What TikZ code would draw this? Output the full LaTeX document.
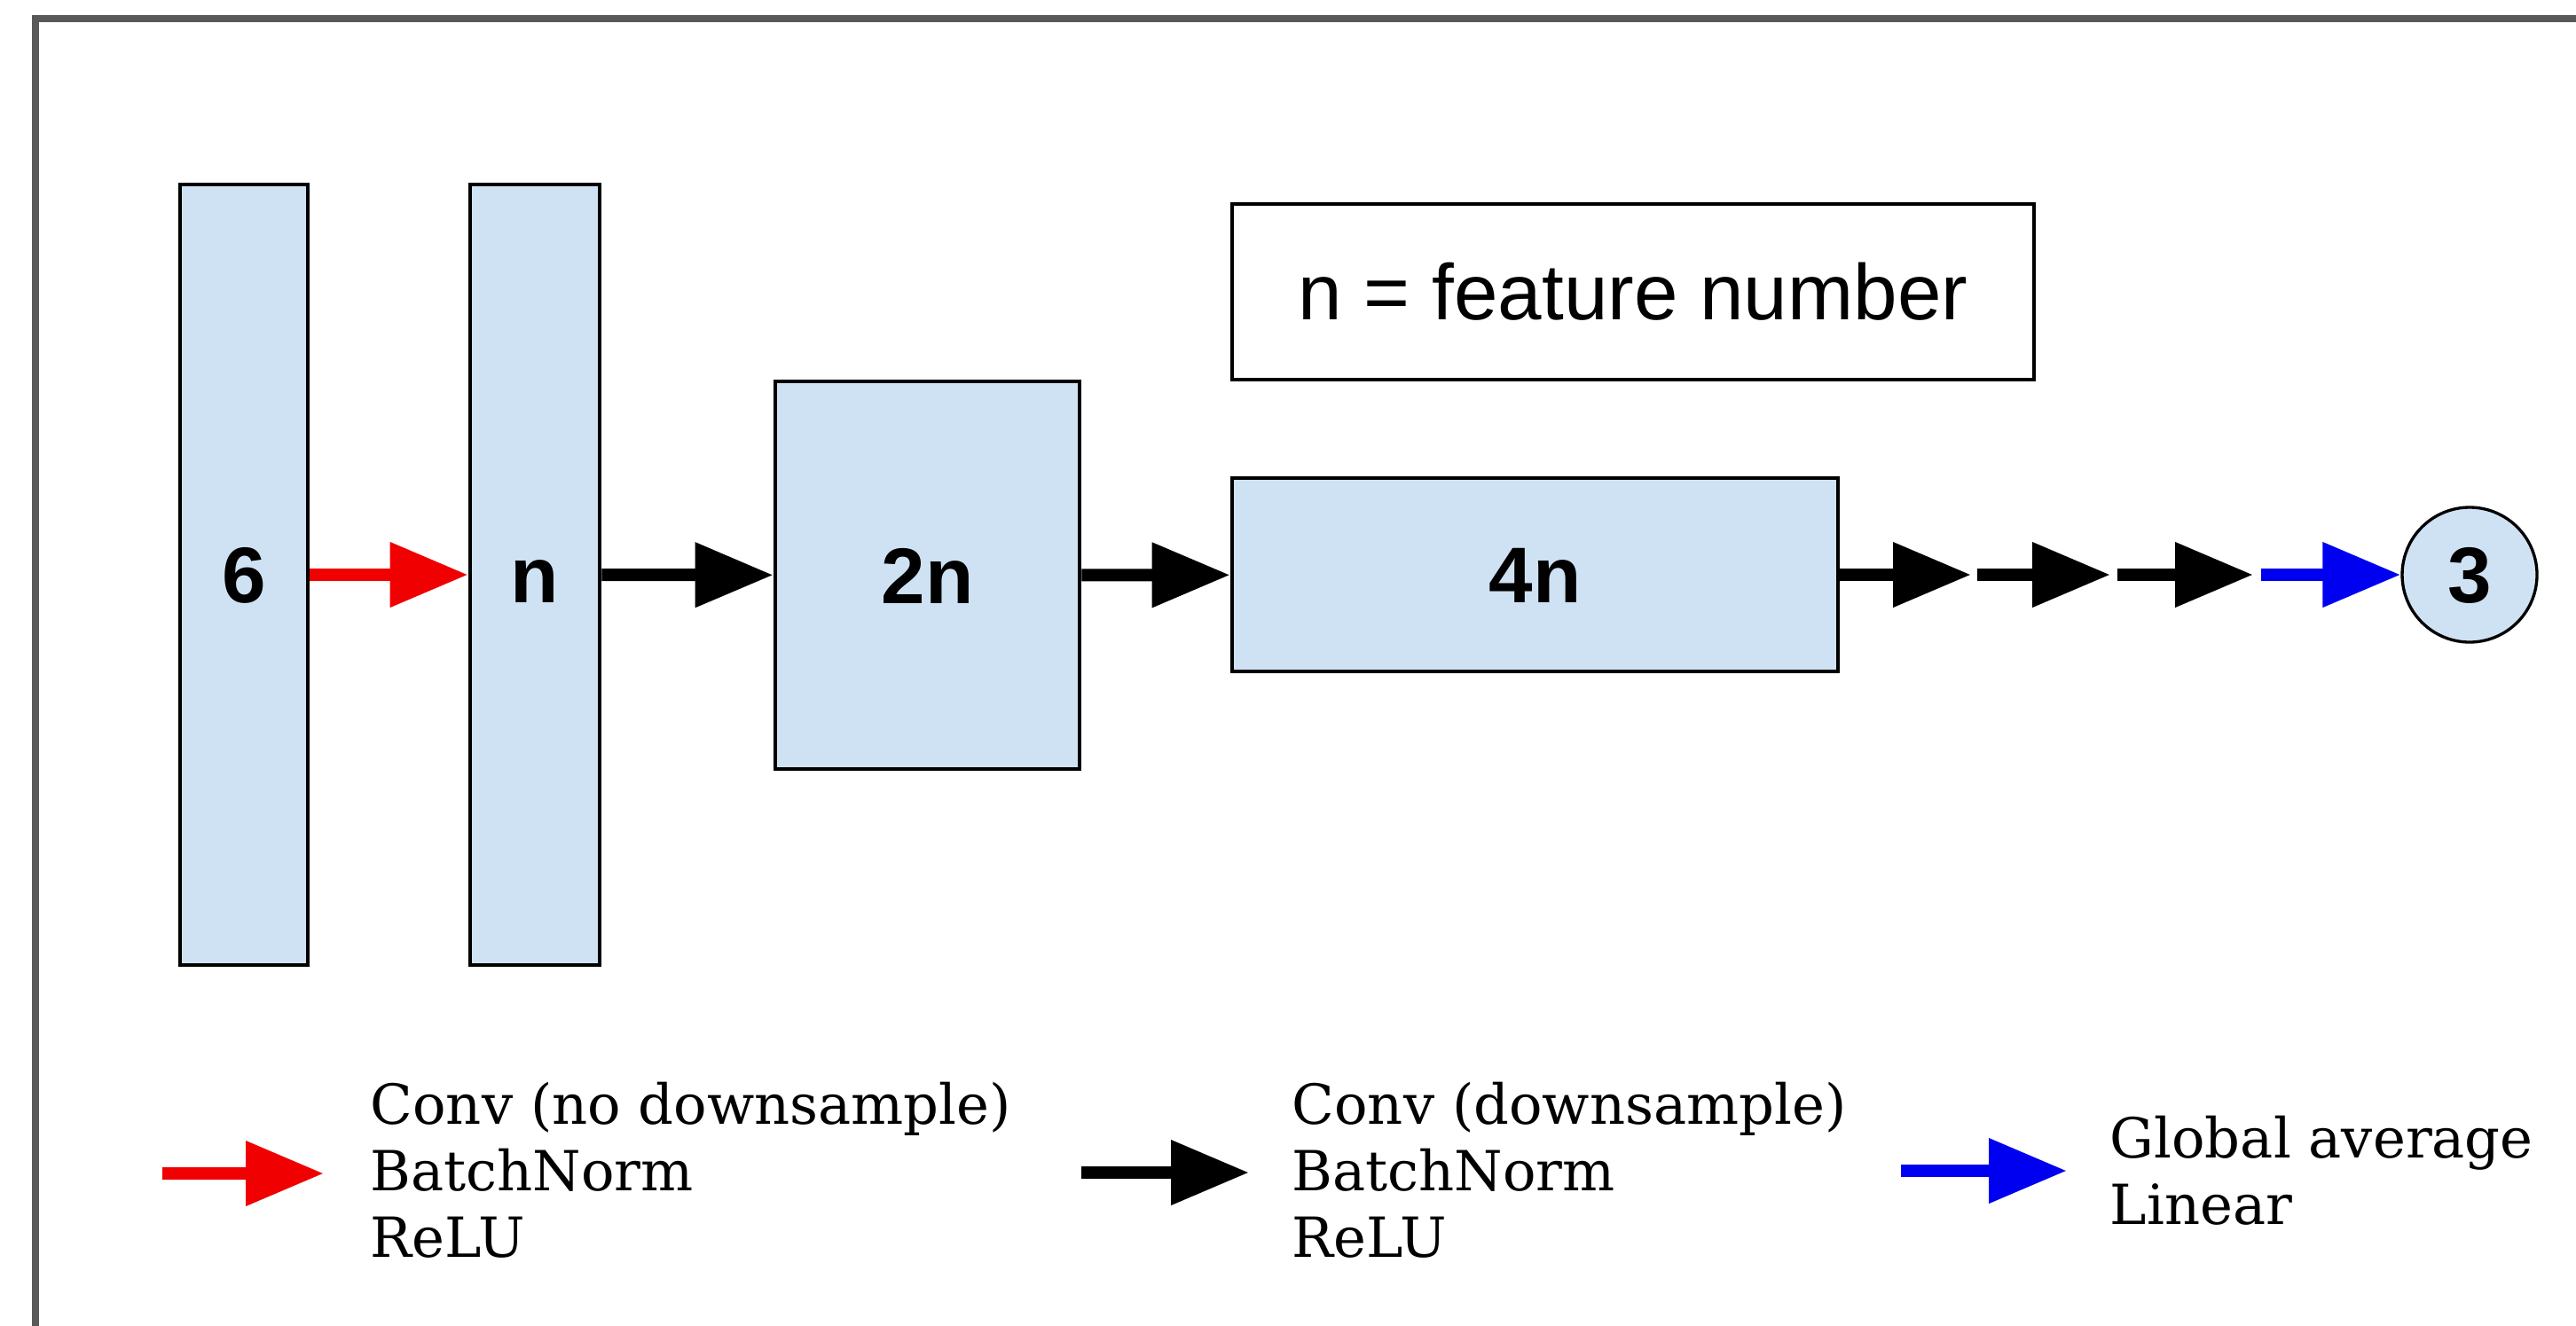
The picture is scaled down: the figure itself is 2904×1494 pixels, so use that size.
\documentclass[tikz,border=0pt]{standalone}
\usepackage{fontspec}
\usetikzlibrary{arrows.meta}
\newfontfamily\labelfont{Liberation Sans}
\newfontfamily\legendfont{DejaVu Serif}
\definecolor{layerblue}{HTML}{CFE2F3}
\definecolor{framegrey}{HTML}{595959}
\definecolor{convred}{HTML}{F00000}
\definecolor{headblue}{HTML}{0000F0}

\begin{document}
\begin{tikzpicture}[x=0.3pt,y=-0.3pt,
  labeltext/.style={text height=19.1pt, text depth=0pt},
  layer/.style={draw=black, line width=1.4pt, fill=layerblue, inner sep=0pt, labeltext,
    font={\labelfont\bfseries\fontsize{26.7pt}{32pt}\selectfont}},
  notebox/.style={draw=black, line width=1.4pt, fill=white, inner sep=0pt, labeltext,
    font={\labelfont\fontsize{26.7pt}{32pt}\selectfont}},
  outnode/.style={circle, draw=black, line width=1pt, fill=layerblue, inner sep=0pt,
    minimum size=45.6pt, labeltext,
    font={\labelfont\bfseries\fontsize{26.7pt}{32pt}\selectfont}},
  legendtext/.style={inner sep=0pt, align=left, anchor=base west,
    font={\legendfont\fontsize{18.7pt}{22.5pt}\selectfont}},
  flow/.style={line width=4.2pt, -{Triangle[length=26.4pt,width=21pt]}},
]
\useasboundingbox (0,0) rectangle (2904,1494);

% outer frame (left and top edges)
\draw[framegrey, line width=2.5pt, line join=miter] (40,1520) -- (40,21) -- (2930,21);

% layers
\node[layer, minimum width=43.2pt, minimum height=264pt] (in) at (275,648) {6};
\node[layer, minimum width=43.8pt, minimum height=264pt] (l1) at (603,648) {n};
\node[layer, minimum width=102.9pt, minimum height=131.1pt] (l2) at (1045.5,648.5) {2n};
\node[layer, minimum width=204.9pt, minimum height=65.4pt] (l3) at (1730.5,648) {4n};
\node[outnode] (out) at (2784,648) {3};

\node[notebox, minimum width=271.2pt, minimum height=59.4pt] (note) at (1841,329) {n = feature number};

% connections
\draw[flow, convred] (in) -- (l1);
\draw[flow, black] (l1) -- (l2);
\draw[flow, black] (l2) -- (l3);

\coordinate (s1) at (2222,648);
\coordinate (s2) at (2229,648);
\coordinate (s3) at (2379,648);
\coordinate (s4) at (2387,648);
\coordinate (s5) at (2540,648);
\coordinate (s6) at (2549,648);
\draw[flow, black] (l3.east) -- (s1);
\draw[flow, black] (s2) -- (s3);
\draw[flow, black] (s4) -- (s5);
\draw[flow, headblue] (s6) -- (out.west);

% legend (node base = baseline of the last line)
\coordinate (lgr1) at (183,1323);
\coordinate (lgr2) at (365,1323);
\draw[flow, convred] (lgr1) -- (lgr2);
\node[legendtext] (lgtxt1) at (417,1417) {Conv (no downsample)\\BatchNorm\\ReLU};

\coordinate (lgk1) at (1219,1322);
\coordinate (lgk2) at (1408,1322);
\draw[flow, black] (lgk1) -- (lgk2);
\node[legendtext] (lgtxt2) at (1456,1417) {Conv (downsample)\\BatchNorm\\ReLU};

\coordinate (lgb1) at (2143,1320);
\coordinate (lgb2) at (2330,1320);
\draw[flow, headblue] (lgb1) -- (lgb2);
\node[legendtext] (lgtxt3) at (2378,1380) {Global average\\Linear};
\end{tikzpicture}
\end{document}
